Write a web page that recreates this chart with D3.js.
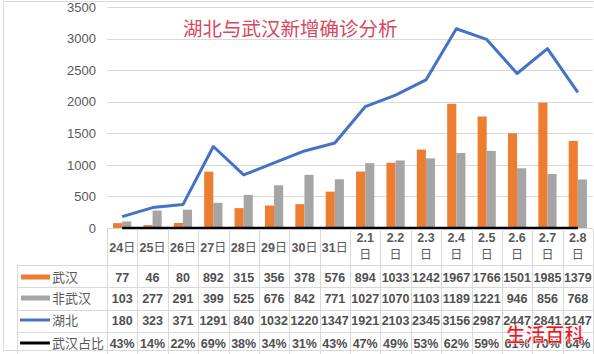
<!DOCTYPE html>
<html><head><meta charset="utf-8">
<script src="https://cdn.jsdelivr.net/npm/d3@7/dist/d3.min.js"></script>
<style>body{margin:0;background:#fff}svg{display:block}</style>
</head><body>
<script>
const categories = ["24日","25日","26日","27日","28日","29日","30日","31日","2.1日","2.2日","2.3日","2.4日","2.5日","2.6日","2.7日","2.8日"];
const wuhan = [77,46,80,892,315,356,378,576,894,1033,1242,1967,1766,1501,1985,1379];
const nonWuhan = [103,277,291,399,525,676,842,771,1027,1070,1103,1189,1221,946,856,768];
const hubei = [180,323,371,1291,840,1032,1220,1347,1921,2103,2345,3156,2987,2447,2841,2147];
const ratio = [43,14,22,69,38,34,31,43,47,49,53,62,59,61,70,64];
const yTicks = [0,500,1000,1500,2000,2500,3000,3500];
const seriesNames = ["武汉","非武汉","湖北","武汉占比"];
const title = "湖北与武汉新增确诊分析";

const W=594,H=354;
const svg=d3.select("body").append("svg").attr("width",W).attr("height",H);
svg.append("rect").attr("width",W).attr("height",H).attr("fill","#fff");
const cn="'Noto Sans CJK SC','Noto Sans',sans-serif";
const num="'Liberation Sans',Arial,sans-serif";

// outer frame
svg.append("rect").attr("x",3.5).attr("y",1.5).attr("width",W).attr("height",349).attr("fill","none").attr("stroke","#d9d9d9");

const x=d3.scaleBand().domain(categories).range([107,593]);
const y=d3.scaleLinear().domain([0,3500]).range([228,7]);
const xs=d3.scaleBand().domain([0,1]).range([x.bandwidth()*0.2,x.bandwidth()*0.8]);

// gridlines
svg.append("g").selectAll("line").data(yTicks).join("line")
  .attr("x1",107).attr("x2",593).attr("y1",d=>Math.round(y(d))+0.5).attr("y2",d=>Math.round(y(d))+0.5)
  .attr("stroke","#d9d9d9");
// y axis labels
const yAxis=svg.append("g").attr("transform","translate(96,0)")
  .call(d3.axisLeft(y).tickValues(yTicks).tickFormat(d3.format("d")).tickSize(0).tickPadding(0));
yAxis.select(".domain").remove();
yAxis.selectAll("text").attr("font-family",num).attr("font-size",13).attr("fill","#595959");

// bars
const gb=svg.append("g");
gb.selectAll(".w").data(wuhan).join("rect")
  .attr("x",(d,i)=>x(categories[i])+xs(0)).attr("width",xs.bandwidth())
  .attr("y",d=>y(d)).attr("height",d=>y(0)-y(d)).attr("fill","#ed7d31");
gb.selectAll(".n").data(nonWuhan).join("rect")
  .attr("x",(d,i)=>x(categories[i])+xs(1)).attr("width",xs.bandwidth())
  .attr("y",d=>y(d)).attr("height",d=>y(0)-y(d)).attr("fill","#a5a5a5");

const cx=c=>x(c)+x.bandwidth()/2;
// ratio line (values as fraction on same axis)
svg.append("path").datum(ratio).attr("fill","none").attr("stroke","#000").attr("stroke-width",2.5)
  .attr("d",d3.line().x((d,i)=>cx(categories[i])).y(d=>y(d/100)));
// hubei line
svg.append("path").datum(hubei).attr("fill","none").attr("stroke","#4472c4").attr("stroke-width",3)
  .attr("stroke-linejoin","round")
  .attr("d",d3.line().x((d,i)=>cx(categories[i])).y(d=>y(d)));

// title
svg.append("text").attr("x",183).attr("y",36).attr("font-family",cn).attr("font-size",19.5)
  .attr("fill","#d8475e").text(title);

// data table
const rowsY=[228,265,287,310,332,354];
const tg=svg.append("g").attr("stroke","#d9d9d9").attr("stroke-width",1);
rowsY.slice(1,5).forEach(yy=>{
  tg.append("line").attr("x1",17).attr("x2",593).attr("y1",yy+0.5).attr("y2",yy+0.5);
});
tg.append("line").attr("x1",17.5).attr("x2",17.5).attr("y1",265).attr("y2",354);
categories.forEach(c=>{
  tg.append("line").attr("x1",Math.round(x(c))+0.5).attr("x2",Math.round(x(c))+0.5).attr("y1",229).attr("y2",354);
});
tg.append("line").attr("x1",593.5).attr("x2",593.5).attr("y1",229).attr("y2",354);

// header labels
const hg=svg.append("g").attr("font-family",cn).attr("font-size",12).attr("font-weight","bold").attr("fill","#595959").attr("text-anchor","middle");
categories.forEach(c=>{
  if(c.startsWith("2.")){
    hg.append("text").attr("x",cx(c)).attr("y",242).attr("font-family",num).attr("font-size",12.5).text(c.replace("日",""));
    hg.append("text").attr("x",cx(c)).attr("y",259).attr("font-weight","normal").text("日");
  } else {
    const t=hg.append("text").attr("x",cx(c)).attr("y",251.5);
    t.append("tspan").attr("font-family",num).attr("font-size",12.5).text(c.replace("日",""));
    t.append("tspan").attr("font-weight","normal").text("日");
  }
});

// rows
const rowData=[wuhan,nonWuhan,hubei,ratio.map(v=>v+"%")];
const rowCenters=[277,298,320,343];
const dg=svg.append("g").attr("font-family",num).attr("font-size",12.5).attr("font-weight","bold").attr("fill","#505050").attr("text-anchor","middle");
rowData.forEach((arr,r)=>{
  arr.forEach((v,i)=>{
    dg.append("text").attr("x",cx(categories[i])).attr("y",rowCenters[r]+4.5).text(v);
  });
});

// legend keys
const lg=svg.append("g");
lg.append("rect").attr("x",21).attr("y",rowCenters[0]-2.5).attr("width",29).attr("height",5).attr("fill","#ed7d31");
lg.append("rect").attr("x",21).attr("y",rowCenters[1]-2.5).attr("width",29).attr("height",5).attr("fill","#a5a5a5");
lg.append("line").attr("x1",20).attr("x2",50).attr("y1",rowCenters[2]).attr("y2",rowCenters[2]).attr("stroke","#4472c4").attr("stroke-width",3);
lg.append("line").attr("x1",20).attr("x2",50).attr("y1",rowCenters[3]).attr("y2",rowCenters[3]).attr("stroke","#000").attr("stroke-width",3);
seriesNames.forEach((s,i)=>{
  lg.append("text").attr("x",52).attr("y",rowCenters[i]+5).attr("font-family",cn).attr("font-size",13)
    .attr("fill","#595959").text(s);
});

// watermark (as in the reference, it sits over the last table cells)
svg.append("text").attr("x",506).attr("y",342).attr("font-family",cn).attr("font-size",19.5).attr("font-weight","bold")
  .attr("fill","#e8151f").attr("stroke","#fff").attr("stroke-width",0.5).text("生活百科");
</script>
</body></html>
